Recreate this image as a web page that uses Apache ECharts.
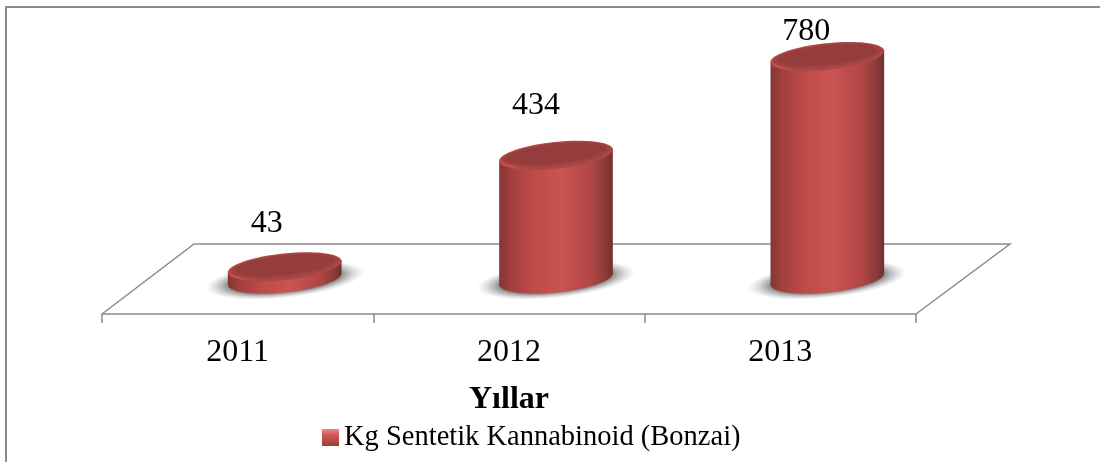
<!DOCTYPE html>
<html><head><meta charset="utf-8">
<style>html,body{margin:0;padding:0;background:#fff}#c{width:1100px;height:462px}</style>
<script src="https://cdn.jsdelivr.net/npm/echarts@6/dist/echarts.min.js"></script>
</head><body><div id="c"></div>
<script>
const years = ['2011','2012','2013'];
const values = [43,434,780];
const seriesName = 'Kg Sentetik Kannabinoid (Bonzai)';
const axisName = 'Yıllar';

const SERIF = '"Liberation Serif","Times New Roman",serif';
const DEPTH_X = 94, DEPTH_Y = 70, TILT = 6*Math.PI/180, RX = 57.2, RY = 13.3;
const LABEL_SHIFT = [[-18,-43],[-20,-50],[-21,-25]];
const grad = (stops,x2,y2)=>new echarts.graphic.LinearGradient(0,0,x2,y2,stops.map((c,i)=>({offset:c[0],color:c[1]})));
const bodyFill = ()=>grad([[0,'#823736'],[0.1,'#a03f3e'],[0.3,'#bd4c4a'],[0.55,'#cb5351'],[0.8,'#b24745'],[0.93,'#8d3b3a'],[1,'#6f3030']],1,0);

function ellipsePt(cx,cy,t){
  const x=RX*Math.cos(t), y=RY*Math.sin(t);
  return [cx+x*Math.cos(TILT)+y*Math.sin(TILT), cy-x*Math.sin(TILT)+y*Math.cos(TILT)];
}
function renderCyl(params,api){
  const i=api.value(0), v=api.value(1);
  const base=api.coord([i,0]), top=api.coord([i,v]);
  const cx=base[0]+DEPTH_X/2, by=base[1]-DEPTH_Y/2, ty=top[1]-DEPTH_Y/2;
  const t0=Math.atan2(RY*Math.sin(TILT),RX*Math.cos(TILT));
  const pts=[];
  const N=40;
  for(let k=0;k<=N;k++){ pts.push(ellipsePt(cx,by,Math.PI-t0-(k/N)*Math.PI)); }
  const poly=[ellipsePt(cx,ty,Math.PI-t0)].concat(pts,[ellipsePt(cx,ty,-t0)]);
  const ell=(cy,a,b,fill)=>({type:'ellipse',x:cx,y:cy,originX:0,originY:0,rotation:TILT,
    shape:{cx:0,cy:0,rx:a,ry:b},style:{fill}});
  return {type:'group',children:[
    {type:'circle',x:cx,y:by+1,rotation:TILT,scaleX:80/18,scaleY:1,shape:{cx:0,cy:0,r:18},
     style:{fill:new echarts.graphic.RadialGradient(0.5,0.5,0.5,[
      {offset:0,color:'rgba(95,95,95,.95)'},{offset:0.68,color:'rgba(110,110,110,.9)'},{offset:1,color:'rgba(190,190,190,0)'}])}},
    {type:'polygon',shape:{points:poly},style:{fill:bodyFill()}},
    ell(ty,RX,RY,grad([[0,'#a94745'],[0.55,'#c64f4d'],[1,'#a94745']],0.2,1)),
    ell(ty-1,RX-3,RY-2,'#a04140'),
    ell(ty-1.5,RX-7,RY-4,'#943d3c'),
    {type:'text',x:cx+LABEL_SHIFT[i][0],y:ty+LABEL_SHIFT[i][1],
      style:{text:String(v),fill:'#000',font:'32px '+SERIF,align:'center',verticalAlign:'middle'}}
  ]};
}
function renderFloor(params,api){
  if(params.dataIndex!==0) return null;
  const c=params.coordSys, x=c.x, y=c.y+c.height, w=c.width;
  return {type:'polyline',silent:true,shape:{points:[[x,y],[x+92,y-DEPTH_Y],[x+w+94,y-DEPTH_Y],[x+w,y]]},
    style:{stroke:'#8c8c8c',lineWidth:1.5,fill:null}};
}
const chart=echarts.init(document.getElementById('c'),null,{renderer:'canvas'});
chart.setOption({
  animation:false,backgroundColor:'#fff',
  graphic:[{type:'polyline',shape:{points:[[6,462],[6,7],[1100,7]]},style:{fill:null,stroke:'#8c8c8c',lineWidth:2},silent:true}],
  grid:{left:102,top:28.7,width:814,height:285.3},
  legend:{left:317,top:418,itemWidth:17,itemHeight:17,itemGap:2,
    textStyle:{fontFamily:SERIF,fontSize:28.5,color:'#000'},
    data:[{name:seriesName,icon:'rect'}]},
  xAxis:{type:'category',data:years,boundaryGap:true,
    axisLine:{lineStyle:{color:'#8c8c8c',width:1.5}},
    axisTick:{show:true,length:9,lineStyle:{color:'#8c8c8c',width:1.5}},
    axisLabel:{fontFamily:SERIF,fontSize:32,color:'#000',margin:23},
    name:axisName,nameLocation:'middle',nameGap:70,
    nameTextStyle:{fontFamily:SERIF,fontSize:32,fontWeight:'bold',color:'#000'}},
  yAxis:{type:'value',min:0,max:1000,show:false,splitLine:{show:false}},
  series:[
    {type:'custom',silent:true,renderItem:renderFloor,data:[[0,0]],encode:{x:0,y:1},name:'floor'},
    {type:'custom',name:seriesName,renderItem:renderCyl,encode:{x:0,y:1},
     data:values.map((v,i)=>[i,v]),
     itemStyle:{color:grad([[0,'#e58a88'],[0.35,'#cf5a58'],[0.7,'#b84a48'],[1,'#943e3c']],0,1)}}
  ]
});
</script></body></html>
